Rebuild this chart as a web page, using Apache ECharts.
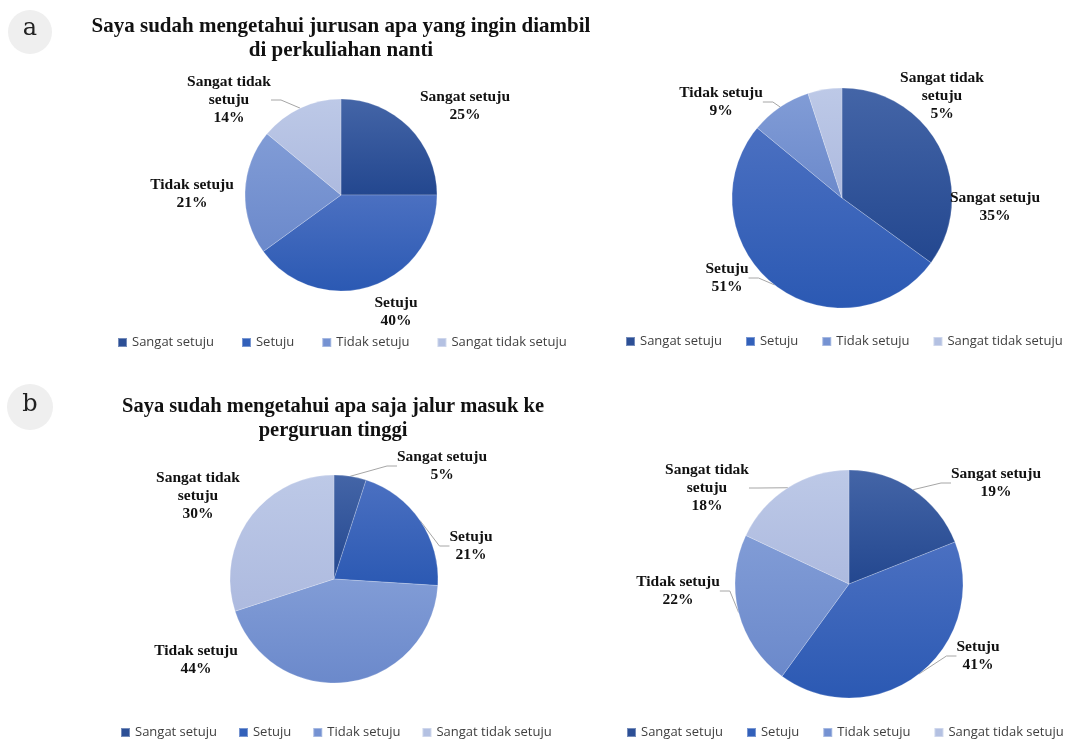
<!DOCTYPE html>
<html><head><meta charset="utf-8">
<script src="https://cdn.jsdelivr.net/npm/echarts@6/dist/echarts.min.js"></script>
<style>html,body{margin:0;padding:0;background:#fff}#c{width:1077px;height:740px}</style>
</head><body><div id="c"></div>
<script>
const categories = ['Sangat setuju', 'Setuju', 'Tidak setuju', 'Sangat tidak setuju'];
const valuesA1 = [25, 40, 21, 14];
const valuesA2 = [35, 51, 9, 5];
const valuesB1 = [5, 21, 44, 30];
const valuesB2 = [19, 41, 22, 18];
const titleA = 'Saya sudah mengetahui jurusan apa yang ingin diambil\ndi perkuliahan nanti';
const titleB = 'Saya sudah mengetahui apa saja jalur masuk ke\nperguruan tinggi';

const grad = (a, b) => new echarts.graphic.LinearGradient(0, 0, 0, 1, [{offset: 0, color: a}, {offset: 1, color: b}]);
const colors = [grad('#4465a7', '#23478f'), grad('#4b70c1', '#2b59b3'), grad('#819cd6', '#6b89cb'), grad('#bdc9e7', '#adbadf')];
const legendColors = ['#2c4f96', '#3260ba', '#7592d2', '#b4c1e2'];

// label centres per pie (layout only)
const labelPos = [
  [[465, 106], [396, 312], [192, 194], [229, 100]],
  [[995, 207], [727, 278], [721, 102], [942, 96]],
  [[442, 466], [471, 546], [196, 660], [198, 496]],
  [[996, 483], [978, 656], [678, 591], [707, 488]]
];
const lineShow = [
  [false, false, false, true],
  [false, true, true, false],
  [true, true, false, false],
  [true, true, true, true]
];
const pies = [
  {vals: valuesA1, center: [341, 195], r: 96},
  {vals: valuesA2, center: [842, 198], r: 110},
  {vals: valuesB1, center: [334, 579], r: 104},
  {vals: valuesB2, center: [849, 584], r: 114}
];

const series = pies.map((p, si) => ({
  type: 'pie',
  center: p.center,
  radius: p.r,
  startAngle: 90,
  clockwise: true,
  animation: false,
  itemStyle: {borderColor: 'rgba(255,255,255,0.35)', borderWidth: 0.6},
  label: {
    show: true,
    position: 'outside',
    fontFamily: 'Liberation Serif',
    fontWeight: 'bold',
    fontSize: 15.5,
    lineHeight: 18,
    color: '#111',
    align: 'center',
    formatter: (d) => (d.name === 'Sangat tidak setuju' ? 'Sangat tidak\nsetuju' : d.name) + '\n' + d.value + '%'
  },
  labelLine: {show: true, length: 10, length2: 10, lineStyle: {color: '#a6a6a6', width: 1}},
  labelLayout: (params) => {
    const pos = labelPos[si][params.dataIndex];
    return {x: pos[0], y: pos[1], align: 'center', verticalAlign: 'middle', hideOverlap: false};
  },
  emphasis: {disabled: true},
  data: p.vals.map((v, i) => ({
    name: categories[i], value: v,
    itemStyle: {color: colors[i]},
    labelLine: {show: lineShow[si][i]}
  }))
}));

const legendBase = (left, top, si, gap) => ({
  left: left, top: top, orient: 'horizontal', seriesIndex: si, padding: 0,
  itemWidth: 9, itemHeight: 9, itemGap: gap, icon: 'rect',
  selectedMode: false,
  textStyle: {fontFamily: 'Open Sans', fontSize: 13, color: '#404040'},
  data: categories.map((c, i) => ({name: c, itemStyle: {color: legendColors[i]}}))
});

const titleStyle = {fontFamily: 'Liberation Serif', fontWeight: 'bold', fontSize: 21, lineHeight: 24, color: '#111'};
const chart = echarts.init(document.getElementById('c'), null, {renderer: 'canvas'});
chart.setOption({
  backgroundColor: '#fff',
  title: [
    {text: titleA, left: 341, top: 15, padding: 0, textAlign: 'center', textStyle: titleStyle},
    {text: titleB, left: 333, top: 395, padding: 0, textAlign: 'center', textStyle: Object.assign({}, titleStyle, {fontSize: 20.5})}
  ],
  legend: [
    legendBase(117, 336, 0, 27),
    legendBase(625, 335, 1, 23),
    legendBase(120, 726, 2, 21),
    legendBase(626, 726, 3, 23)
  ],
  graphic: [
    {type: 'circle', shape: {cx: 30, cy: 32, r: 22}, style: {fill: '#efefef'}},
    {type: 'text', x: 30, y: 29, style: {text: 'a', fontFamily: 'DejaVu Serif', fontSize: 24, fill: '#222', align: 'center', verticalAlign: 'middle'}},
    {type: 'circle', shape: {cx: 30, cy: 407, r: 23}, style: {fill: '#efefef'}},
    {type: 'text', x: 30, y: 405, style: {text: 'b', fontFamily: 'DejaVu Serif', fontSize: 24, fill: '#222', align: 'center', verticalAlign: 'middle'}}
  ],
  series: series
});
</script></body></html>
